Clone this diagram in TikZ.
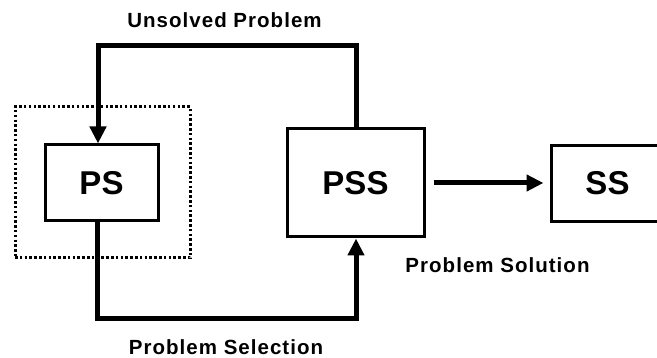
\documentclass[tikz,border=0pt]{standalone}
\usepackage{fontspec}
\setmainfont{Liberation Sans}
\newfontfamily\spacedsans{Liberation Sans}[LetterSpace=5]
\usetikzlibrary{arrows.meta}

\tikzset{
  block/.style={draw, line width=3pt, minimum width=113pt, minimum height=76pt,
    inner sep=0pt, font=\fontsize{33}{33}\selectfont\bfseries},
  bigblock/.style={block, minimum width=137pt, minimum height=108pt},
  frame/.style={draw, line width=3pt, dash pattern=on 2.5pt off 2.3pt,
    minimum width=175pt, minimum height=151pt, inner sep=0pt},
  flow/.style={line width=5pt, line join=miter, -{Triangle[length=17pt,width=16pt]}},
  lbl/.style={font=\spacedsans\fontsize{20.5}{20.5}\selectfont\bfseries, anchor=base, inner sep=0pt}
}

\begin{document}
\begin{tikzpicture}[x=1pt,y=-1pt]
  \useasboundingbox (0,0) rectangle (657,358);
  \clip (0,0) rectangle (657,358);

  % boxes
  \node[block] (PS) at (101.5,183) {PS};
  \node[frame] (PSframe) at (102.5,182.5) {};
  \node[bigblock] (PSS) at (355.5,183) {PSS};
  \node[block] (SS) at (607.5,183.5) {SS};

  % feedback loop and selection path
  \coordinate (topL) at (98,46);
  \coordinate (botR) at (356,319);
  \draw[flow] (PSS.north -| botR) |- (topL) -- (PS.north -| topL);
  \draw[flow] (PS.south -| 97,0) |- (botR) -- (PSS.south -| botR);

  % solution output, kept horizontal
  \draw[flow] ([xshift=8pt]PSS.east) -- ([xshift=-6pt]SS.west |- PSS.east);

  % labels
  \node[lbl] (lu) at (224.5,28) {Unsolved Problem};
  \node[lbl] (lsel) at (226,355) {Problem Selection};
  \node[lbl] (lsol) at (497.5,273) {Problem Solution};
\end{tikzpicture}
\end{document}
